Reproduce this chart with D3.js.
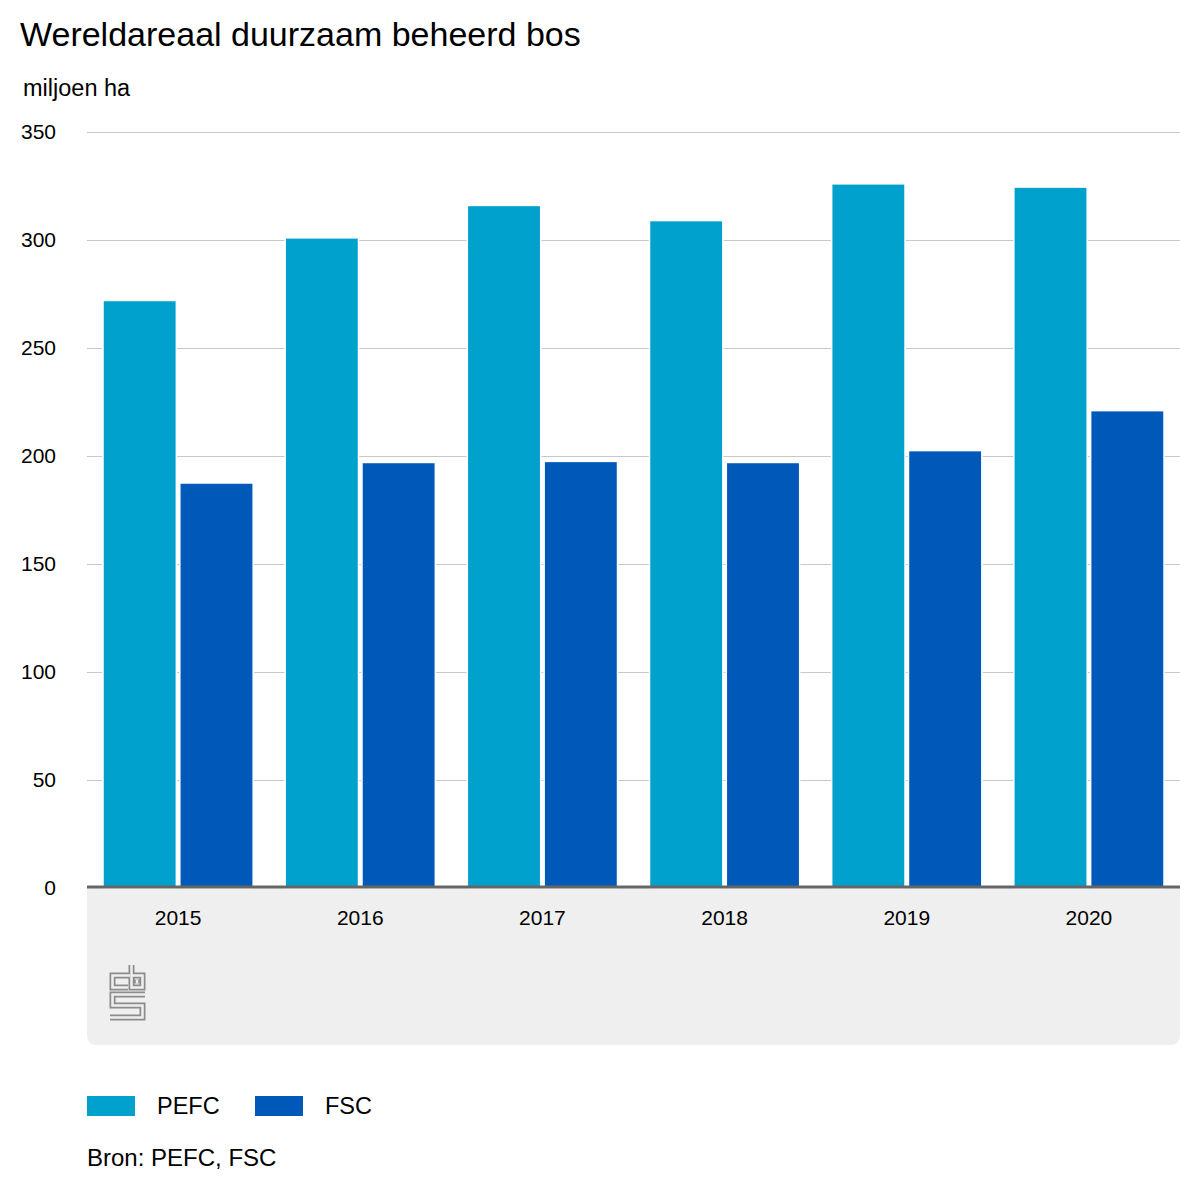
<!DOCTYPE html>
<html>
<head>
<meta charset="utf-8">
<script src="https://cdn.jsdelivr.net/npm/d3@7"></script>
<style>
  body { margin: 0; background: #fff; }
  text { font-family: "Liberation Sans", Arial, sans-serif; fill: #000; }
</style>
</head>
<body>
<div id="chartDiv"></div>
<script>
;(function() {

	var years = ["2015", "2016", "2017", "2018", "2019", "2020"];
	var series = ["PEFC", "FSC"];
	var pefc = [272, 301, 316, 309, 326, 324.5];
	var fsc = [187.5, 197, 197.5, 197, 202.5, 221];
	var yTicks = [0, 50, 100, 150, 200, 250, 300, 350];
	var colors = { PEFC: "#00a2cd", FSC: "#0058b8" };

	var width = 1200, height = 1200;
	var plot = { left: 87, right: 1180, top: 132, bottom: 888 };

	var svg = d3.select("#chartDiv").append("svg")
		.attr("width", width)
		.attr("height", height);

	// title + unit
	svg.append("text")
		.attr("x", 20).attr("y", 46)
		.style("font-size", "34px")
		.text("Wereldareaal duurzaam beheerd bos");

	svg.append("text")
		.attr("x", 23).attr("y", 96)
		.style("font-size", "23.5px")
		.text("miljoen ha");

	var y = d3.scaleLinear().domain([0, 350]).range([plot.bottom, plot.top]);
	var x0 = d3.scaleBand().domain(years).range([plot.left, plot.right]);
	var x1 = d3.scaleBand().domain(series)
		.range([16, x0.bandwidth() - 16])
		.paddingInner(0.045);

	// grey footer under the axis
	var fh = 157, r = 10;
	svg.append("path")
		.attr("fill", "#efefef")
		.attr("d", "M" + plot.left + "," + plot.bottom +
			"H" + plot.right + "V" + (plot.bottom + fh - r) +
			"Q" + plot.right + "," + (plot.bottom + fh) + " " + (plot.right - r) + "," + (plot.bottom + fh) +
			"H" + (plot.left + r) +
			"Q" + plot.left + "," + (plot.bottom + fh) + " " + plot.left + "," + (plot.bottom + fh - r) + "Z");

	// gridlines
	svg.append("g").selectAll("line")
		.data(yTicks.filter(function(d) { return d > 0; }))
		.enter().append("line")
		.attr("x1", plot.left).attr("x2", plot.right)
		.attr("y1", function(d) { return y(d) + 0.5; })
		.attr("y2", function(d) { return y(d) + 0.5; })
		.attr("stroke", "#c8c8c8")
		.attr("stroke-width", 1);

	// y labels
	svg.append("g").selectAll("text")
		.data(yTicks)
		.enter().append("text")
		.attr("x", 56)
		.attr("y", function(d) { return y(d); })
		.attr("dy", "0.35em")
		.attr("text-anchor", "end")
		.style("font-size", "21px")
		.text(function(d) { return d; });

	// bars
	var rows = years.map(function(yr, i) { return { year: yr, PEFC: pefc[i], FSC: fsc[i] }; });

	var groups = svg.append("g").selectAll("g")
		.data(rows)
		.enter().append("g")
		.attr("transform", function(d) { return "translate(" + x0(d.year) + ",0)"; });

	groups.selectAll("rect")
		.data(function(d) { return series.map(function(s) { return { key: s, value: d[s] }; }); })
		.enter().append("rect")
		.attr("x", function(d) { return x1(d.key); })
		.attr("y", function(d) { return y(d.value); })
		.attr("width", x1.bandwidth())
		.attr("height", function(d) { return y(0) - y(d.value); })
		.attr("fill", function(d) { return colors[d.key]; })
		.attr("stroke", "#fff")
		.attr("stroke-width", 1.5);

	// baseline
	svg.append("line")
		.attr("x1", plot.left).attr("x2", plot.right)
		.attr("y1", plot.bottom - 1).attr("y2", plot.bottom - 1)
		.attr("stroke", "#666")
		.attr("stroke-width", 3);

	// year labels
	svg.append("g").selectAll("text")
		.data(years)
		.enter().append("text")
		.attr("x", function(d) { return x0(d) + x0.bandwidth() / 2; })
		.attr("y", 918)
		.attr("dy", "0.35em")
		.attr("text-anchor", "middle")
		.style("font-size", "21px")
		.text(function(d) { return d; });

	// cbs logo (outlined strokes)
	var logo = [
		"M130,975.5H112.5V987.5H128",
		"M131.5,965V987.5H142.5V975.5H131.5",
		"M137,979.5V983.5",
		"M145,994.5H112.5V1005.5H142.5V1017.5H110"
	];
	var lg = svg.append("g");
	lg.selectAll(".o").data(logo).enter().append("path")
		.attr("d", function(d) { return d; })
		.attr("fill", "none").attr("stroke", "#8c8c8c").attr("stroke-width", 6);
	lg.selectAll(".i").data(logo).enter().append("path")
		.attr("d", function(d) { return d; })
		.attr("fill", "none").attr("stroke", "#efefef").attr("stroke-width", 2.5);

	// legend
	var legendX = [87, 255];
	var leg = svg.append("g").selectAll("g")
		.data(series)
		.enter().append("g")
		.attr("transform", function(d, i) { return "translate(" + legendX[i] + ",1096)"; });

	leg.append("rect")
		.attr("width", 48).attr("height", 20)
		.attr("fill", function(d) { return colors[d]; });

	leg.append("text")
		.attr("x", 70).attr("y", 10)
		.attr("dy", "0.35em")
		.style("font-size", "23.5px")
		.text(function(d) { return d; });

	svg.append("text")
		.attr("x", 87).attr("y", 1166)
		.style("font-size", "24px")
		.text("Bron: PEFC, FSC");

})();
</script>
</body>
</html>
